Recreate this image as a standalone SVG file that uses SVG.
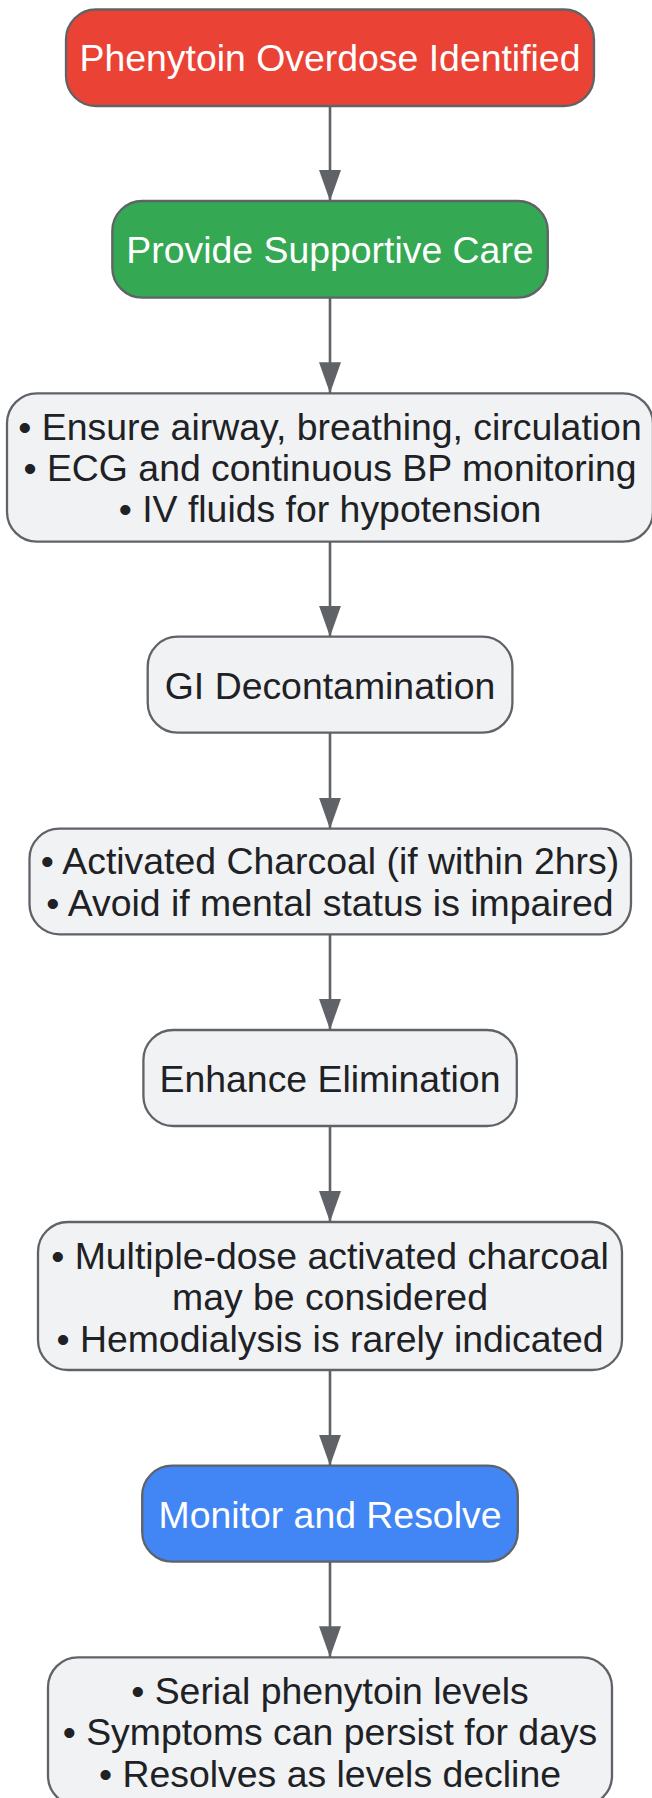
<svg xmlns="http://www.w3.org/2000/svg" width="652" height="1798" viewBox="0 0 652 1798">
<style>
.n{stroke:#5f6368;stroke-width:2.3}
.g{fill:#f1f2f4}
.t{font-family:"Liberation Sans",Arial,sans-serif;font-size:37.4px;text-anchor:middle;fill:#202124}
.w{fill:#ffffff}
.e{stroke:#5f6368;stroke-width:2.6;fill:none}
</style>
<defs>
<marker id="ah" markerUnits="userSpaceOnUse" markerWidth="32" markerHeight="24" refX="31" refY="11" orient="auto">
<path d="M0,0 L31,11 L0,22 z" fill="#5f6368"/>
</marker>
</defs>
<g id="connectors">
<line class="e" x1="330" y1="106" x2="330" y2="201" marker-end="url(#ah)"/>
<line class="e" x1="330" y1="297.7" x2="330" y2="393.3" marker-end="url(#ah)"/>
<line class="e" x1="330" y1="541.7" x2="330" y2="636.7" marker-end="url(#ah)"/>
<line class="e" x1="330" y1="732.7" x2="330" y2="828.7" marker-end="url(#ah)"/>
<line class="e" x1="330" y1="934.3" x2="330" y2="1030" marker-end="url(#ah)"/>
<line class="e" x1="330" y1="1126" x2="330" y2="1222" marker-end="url(#ah)"/>
<line class="e" x1="330" y1="1370" x2="330" y2="1465.7" marker-end="url(#ah)"/>
<line class="e" x1="330" y1="1561.7" x2="330" y2="1657.3" marker-end="url(#ah)"/>
</g>
<g id="node1">
<rect class="n" x="66" y="9.5" width="528" height="96.5" rx="30" fill="#ea4335"/>
<text class="t w" x="330" y="71">Phenytoin Overdose Identified</text>
</g>
<g id="node2">
<rect class="n" x="112.3" y="201" width="435.5" height="96.7" rx="30" fill="#34a853"/>
<text class="t w" x="330" y="263">Provide Supportive Care</text>
</g>
<g id="node3">
<rect class="n g" x="7" y="393.3" width="646" height="148.4" rx="30"/>
<text class="t" x="330" y="440">• Ensure airway, breathing, circulation</text>
<text class="t" x="330" y="481">• ECG and continuous BP monitoring</text>
<text class="t" x="330" y="522">• IV fluids for hypotension</text>
</g>
<g id="node4">
<rect class="n g" x="147.7" y="636.7" width="364.7" height="96" rx="30"/>
<text class="t" x="330" y="699">GI Decontamination</text>
</g>
<g id="node5">
<rect class="n g" x="29.5" y="828.7" width="601.5" height="105.6" rx="30"/>
<text class="t" x="330" y="874">• Activated Charcoal (if within 2hrs)</text>
<text class="t" x="330" y="916">• Avoid if mental status is impaired</text>
</g>
<g id="node6">
<rect class="n g" x="143.4" y="1030" width="373.4" height="96" rx="30"/>
<text class="t" x="330" y="1092">Enhance Elimination</text>
</g>
<g id="node7">
<rect class="n g" x="38" y="1222" width="584" height="148" rx="30"/>
<text class="t" x="330" y="1268.5">• Multiple-dose activated charcoal</text>
<text class="t" x="330" y="1310">may be considered</text>
<text class="t" x="330" y="1351.5">• Hemodialysis is rarely indicated</text>
</g>
<g id="node8">
<rect class="n" x="142.2" y="1465.7" width="375.6" height="96" rx="30" fill="#4285f4"/>
<text class="t w" x="330" y="1527.5">Monitor and Resolve</text>
</g>
<g id="node9">
<rect class="n g" x="48" y="1657.3" width="564" height="148.4" rx="30"/>
<text class="t" x="330" y="1703.5">• Serial phenytoin levels</text>
<text class="t" x="330" y="1745">• Symptoms can persist for days</text>
<text class="t" x="330" y="1786.5">• Resolves as levels decline</text>
</g>
</svg>
